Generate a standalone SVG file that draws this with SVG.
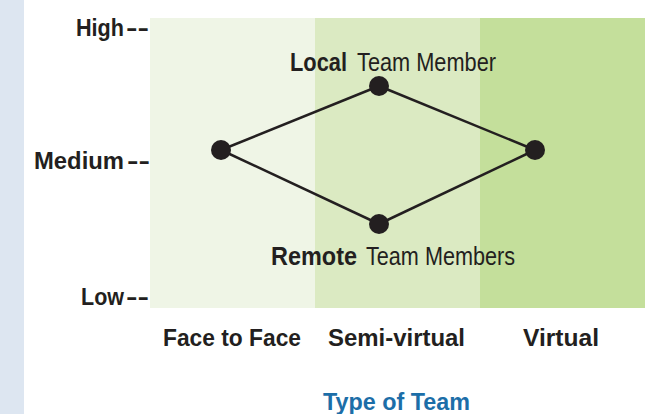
<svg xmlns="http://www.w3.org/2000/svg" width="653" height="414" viewBox="0 0 653 414">
<style>
.t{font-family:"Liberation Sans",Arial,sans-serif;fill:#231f20;font-size:23px}
.n{font-size:25px}
.b{font-weight:bold}
.blue{fill:#1c6ea8}
.edge{stroke:#231f20;stroke-width:2.5;fill:none}
.dot{fill:#231f20}
</style>
<rect x="0" y="0" width="653" height="414" fill="#ffffff"/>
<rect x="0" y="0" width="24" height="414" fill="#dde6f1"/>
<g id="bands">
<rect x="150" y="18" width="165" height="290" fill="#eff5e6"/>
<rect x="315" y="18" width="165" height="290" fill="#dbeac2"/>
<rect x="480" y="18" width="165" height="290" fill="#c4df9b"/>
</g>
<g id="axis-labels">
<text class="t b" x="76" y="36" textLength="48" lengthAdjust="spacingAndGlyphs">High</text>
<text class="t b" x="126" y="36" textLength="23" lengthAdjust="spacingAndGlyphs">--</text>
<text class="t b" x="34" y="169" textLength="90" lengthAdjust="spacingAndGlyphs">Medium</text>
<text class="t b" x="127" y="169" textLength="23" lengthAdjust="spacingAndGlyphs">--</text>
<text class="t b" x="81" y="305" textLength="43" lengthAdjust="spacingAndGlyphs">Low</text>
<text class="t b" x="126" y="305" textLength="23" lengthAdjust="spacingAndGlyphs">--</text>
<text class="t b" x="163" y="346" textLength="138" lengthAdjust="spacingAndGlyphs">Face to Face</text>
<text class="t b" x="328" y="346" textLength="137" lengthAdjust="spacingAndGlyphs">Semi-virtual</text>
<text class="t b" x="523" y="346" textLength="76" lengthAdjust="spacingAndGlyphs">Virtual</text>
<text class="t b blue" x="323" y="410" textLength="147" lengthAdjust="spacingAndGlyphs">Type of Team</text>
</g>
<g id="connectors">
<line class="edge" x1="221" y1="150" x2="379" y2="86"/>
<line class="edge" x1="379" y1="86" x2="535" y2="150"/>
<line class="edge" x1="221" y1="150" x2="379" y2="224"/>
<line class="edge" x1="379" y1="224" x2="535" y2="150"/>
</g>
<g id="node-left"><circle class="dot" cx="221" cy="150" r="10"/></g>
<g id="node-local">
<circle class="dot" cx="379" cy="86" r="10"/>
<text class="t n b" x="290" y="71" textLength="57" lengthAdjust="spacingAndGlyphs">Local</text>
<text class="t n" x="357" y="71" textLength="139" lengthAdjust="spacingAndGlyphs">Team Member</text>
</g>
<g id="node-right"><circle class="dot" cx="535" cy="150" r="10"/></g>
<g id="node-remote">
<circle class="dot" cx="379" cy="224" r="10"/>
<text class="t n b" x="271" y="265" textLength="86" lengthAdjust="spacingAndGlyphs">Remote</text>
<text class="t n" x="366" y="265" textLength="149" lengthAdjust="spacingAndGlyphs">Team Members</text>
</g>
</svg>
